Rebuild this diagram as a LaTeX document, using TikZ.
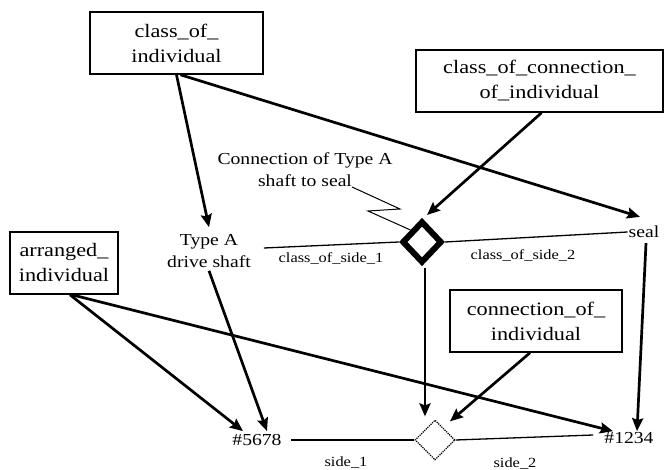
\documentclass[tikz,border=0pt]{standalone}
\usepackage{fontspec}
\setmainfont{Liberation Serif}[FakeStretch=1.17]
\usetikzlibrary{shapes.geometric,arrows.meta}
\tikzset{
  entbox/.style={draw, line width=1.6pt, inner sep=0pt, align=center,
    font=\fontsize{19}{25}\selectfont},
  lbl/.style={inner sep=1pt, align=center, font=\fontsize{16.8}{22}\selectfont},
  sidelbl/.style={inner sep=1pt, font=\fontsize{14}{16}\selectfont},
  arr/.style={line width=2.7pt, -{Stealth[length=13pt,width=11pt,inset=2pt]}},
  thinline/.style={line width=1.3pt},
  thickdia/.style={diamond, draw, line width=6pt, inner sep=0pt, aspect=1,
    minimum width=40pt, minimum height=42pt},
  dotdia/.style={diamond, draw, densely dotted, line width=1.2pt, inner sep=0pt, aspect=1,
    minimum width=40pt, minimum height=40pt}
}
\begin{document}
\begin{tikzpicture}[x=1pt,y=-1pt]
\useasboundingbox (0,0) rectangle (664,470);
% boxes
\node[entbox, minimum width=173pt, minimum height=62pt] (coi) at (176.5,43) {class\_of\_\\individual};
\node[entbox, minimum width=247pt, minimum height=62pt] (ccoi) at (539.5,81) {class\_of\_connection\_\\of\_individual};
\node[entbox, minimum width=108pt, minimum height=62pt] (ai) at (64,263) {arranged\_\\individual};
\node[entbox, minimum width=172pt, minimum height=62pt] (conn) at (536,321) {connection\_of\_\\individual};
% text nodes
\node[lbl] (typeA) at (209,251) {Type A\\drive shaft};
\node[lbl] (seal) at (644,232) {seal};
\node[lbl] (cts) at (305,170) {Connection of Type A\\shaft to seal};
\node[sidelbl] (cos1) at (331,258) {class\_of\_side\_1};
\node[sidelbl] (cos2) at (523,255) {class\_of\_side\_2};
\node[lbl] (n5678) at (257,440) {\#5678};
\node[lbl] (n1234) at (629,438) {\#1234};
\node[sidelbl] (side1) at (346,463) {side\_1};
\node[sidelbl] (side2) at (515,464) {side\_2};
% diamonds
\node[thickdia] (d1) at (422,242) {};
\node[dotdia] (d2) at (435,440) {};
% callout
\coordinate (c0) at (352,187);
\coordinate (z1) at (400,209);
\coordinate (z2) at (368,211);
\draw[line width=1pt] (c0) -- (z1) -- (z2) -- (d1.north west);
% thin connection lines
\draw[thinline] ([xshift=12pt,yshift=3pt]typeA.east) -- (d1.west);
\draw[thinline] (d1.east) -- (seal.west);
\draw[thinline] ([xshift=8pt]n5678.east) -- (d2.west);
\draw[thinline] (d2.east) -- ([xshift=-10pt,yshift=3pt]n1234.west);
% arrows
\draw[arr] (coi.south) -- ([yshift=6pt]typeA.north);
\draw[arr] ([xshift=4pt]coi.south) -- ([xshift=-4pt,yshift=8pt]seal.north);
\draw[arr] ([xshift=2pt]ccoi.south) -- ([xshift=5pt,yshift=3pt]d1.north);
\draw[arr] ([yshift=-2pt]typeA.south) -- ([xshift=10pt,yshift=2pt]n5678.north);
\draw[arr] ([xshift=6pt]ai.south) -- ([xshift=-14pt,yshift=2pt]n5678.north);
\draw[arr] ([xshift=8pt]ai.south) -- ([xshift=-16pt]n1234.north);
\draw[arr] ([xshift=2pt,yshift=-4pt]seal.south) -- ([xshift=8pt]n1234.north);
\draw[arr] ([xshift=3pt,yshift=-2pt]d1.south) -- ([xshift=-10pt,yshift=3pt]d2.north);
\draw[arr] ([xshift=-6pt]conn.south) -- ([xshift=15pt,yshift=-2pt]d2.north);
\end{tikzpicture}
\end{document}
